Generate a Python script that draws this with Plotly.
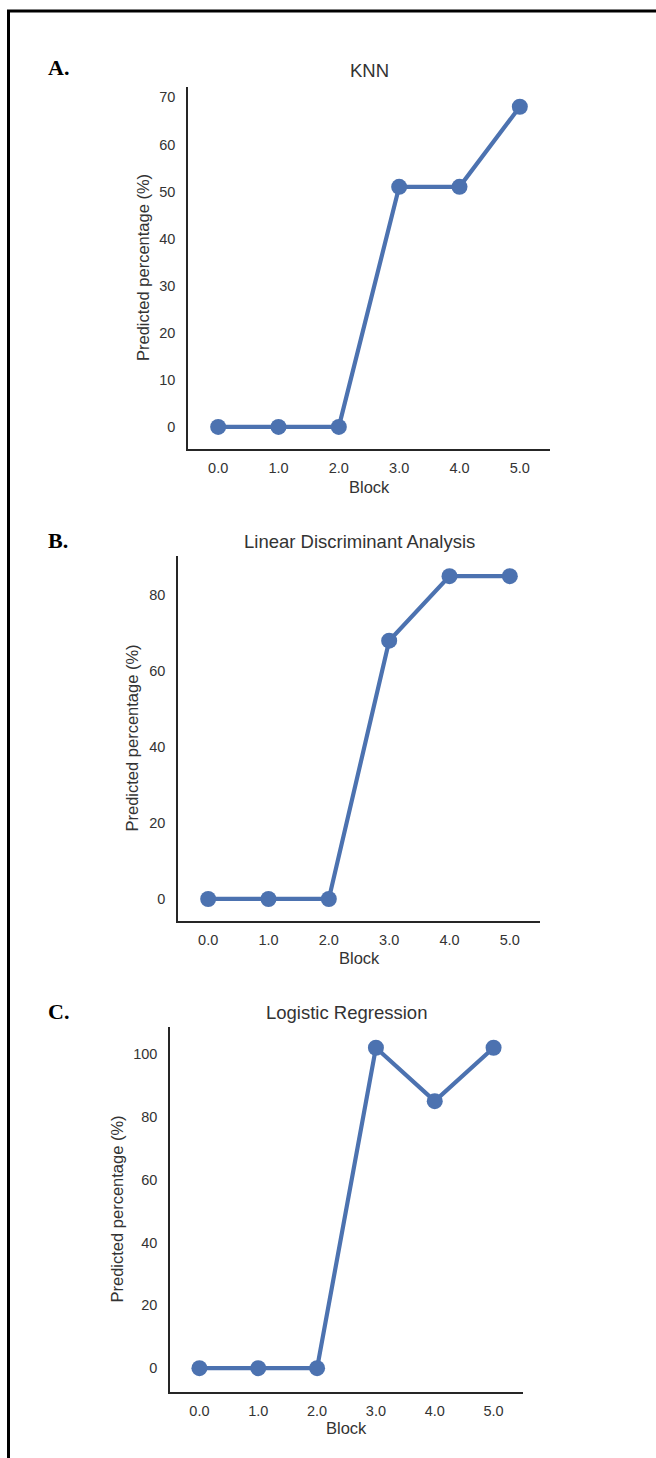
import plotly.graph_objects as go

W, H = 656, 1458

blocks = [0, 1, 2, 3, 4, 5]
block_labels = ["0.0", "1.0", "2.0", "3.0", "4.0", "5.0"]

knn = [0, 0, 0, 51, 51, 68]
lda = [0, 0, 0, 68, 85, 85]
logreg = [0, 0, 0, 102, 85, 102]

titles = ["KNN", "Linear Discriminant Analysis", "Logistic Regression"]
panel_letters = ["A.", "B.", "C."]
y_ticks = [[0, 10, 20, 30, 40, 50, 60, 70], [0, 20, 40, 60, 80], [0, 20, 40, 60, 80, 100]]
y_ranges = [[-4.7, 72.2], [-5.8, 90.3], [-7.6, 108.6]]
series = [knn, lda, logreg]

# panel boxes in pixels: (left, right, top, bottom)
boxes = [(188, 550, 87, 449), (178, 540, 556, 921), (170, 523, 1027, 1392)]
ytitle_x = [143, 131, 116]
title_y = [70, 541, 1012]
letter_y = [68, 540, 1011]
xtitle_y = [487, 958, 1428]

BLUE = "#4C72B0"
TXT = "#333333"
AX = "#262626"


def px(x):
    return x / W


def py(y):
    return 1 - y / H


fig = go.Figure()
annotations = []
for i in range(3):
    n = "" if i == 0 else str(i + 1)
    l, r, t, b = boxes[i]
    fig.add_trace(go.Scatter(
        x=blocks, y=series[i], mode="lines+markers",
        line=dict(color=BLUE, width=4.2), marker=dict(color=BLUE, size=16),
        xaxis="x" + n, yaxis="y" + n, showlegend=False, cliponaxis=False,
    ))
    fig.update_layout(**{
        "xaxis" + n: dict(
            domain=[px(l), px(r)], anchor="y" + n, range=[-0.5, 5.5],
            tickvals=blocks, ticktext=block_labels, showgrid=False, zeroline=False,
            showline=True, linecolor=AX, linewidth=1.5, ticks="",
            tickfont=dict(family="Liberation Sans, Arial", size=14.5, color=TXT),
            ticklabelstandoff=5,
        ),
        "yaxis" + n: dict(
            domain=[py(b), py(t)], anchor="x" + n, range=y_ranges[i],
            tickvals=y_ticks[i], showgrid=False, zeroline=False,
            showline=True, linecolor=AX, linewidth=1.5, ticks="",
            tickfont=dict(family="Liberation Sans, Arial", size=14.5, color=TXT),
            ticklabelstandoff=8,
        ),
    })
    cx = (l + r) / 2
    annotations += [
        dict(text=titles[i], x=px(cx), y=py(title_y[i]), xref="paper", yref="paper",
             showarrow=False, xanchor="center", yanchor="middle",
             font=dict(family="Liberation Sans, Arial", size=18.5, color=TXT)),
        dict(text="Block", x=px(cx), y=py(xtitle_y[i]), xref="paper", yref="paper",
             showarrow=False, xanchor="center", yanchor="middle",
             font=dict(family="Liberation Sans, Arial", size=16.5, color=TXT)),
        dict(text="Predicted percentage (%)", x=px(ytitle_x[i]), y=py((t + b) / 2),
             xref="paper", yref="paper", showarrow=False, textangle=-90,
             xanchor="center", yanchor="middle",
             font=dict(family="Liberation Sans, Arial", size=16.5, color=TXT)),
        dict(text="<b>" + panel_letters[i] + "</b>", x=px(46), y=py(letter_y[i]),
             xref="paper", yref="paper", showarrow=False, xanchor="left", yanchor="middle",
             font=dict(family="Liberation Serif, Times New Roman", size=22, color="black")),
    ]

fig.update_layout(
    width=W, height=H, margin=dict(l=0, r=0, t=0, b=0),
    paper_bgcolor="white", plot_bgcolor="white",
    annotations=annotations,
    shapes=[dict(type="rect", xref="paper", yref="paper",
                 x0=px(8.5), x1=1.05, y0=-0.05, y1=py(11),
                 line=dict(color="black", width=3), fillcolor="rgba(0,0,0,0)")],
)

fig.write_html("out.html")
